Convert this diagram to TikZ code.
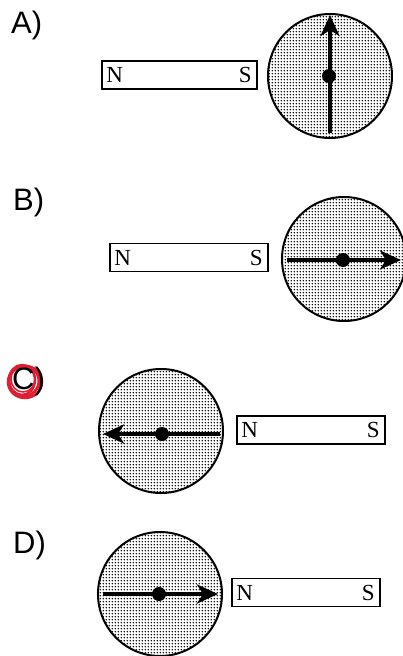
\documentclass[tikz,border=0pt]{standalone}
\usepackage{fontspec}
\setmainfont{Liberation Serif}
\newfontfamily\labfont{Liberation Sans}
\usetikzlibrary{patterns,arrows.meta}
\definecolor{penred}{RGB}{222,30,50}
\pgfdeclarepatternformonly{bigdots}{\pgfpointorigin}{\pgfpoint{3.2pt}{3.2pt}}{\pgfpoint{3.2pt}{3.2pt}}{%
  \pgfpathcircle{\pgfpoint{1.6pt}{1.6pt}}{0.95pt}\pgfusepath{fill}}
\begin{document}
\begin{tikzpicture}[x=1pt,y=-1pt,
  magnet/.style={draw, line width=1.6pt, inner sep=0pt, minimum height=28pt},
  pole/.style={font=\fontsize{23}{23}\selectfont, inner sep=0pt},
  compass/.style={circle, draw, line width=2pt, pattern=bigdots, minimum size=124pt, inner sep=0pt},
  needle/.style={line width=3.8pt, -{Stealth[length=21pt,width=19pt,inset=6pt]}},
  pivot/.style={circle, fill, minimum size=14pt, inner sep=0pt},
  lab/.style={font=\labfont\fontsize{31}{31}\selectfont, anchor=west, inner sep=0pt}]
\useasboundingbox (0,0) rectangle (402,656);
% A
\node[lab] (la) at (11,25) {A)};
\node[magnet, minimum width=155pt] (ma) at (179.5,75) {};
\node[pole, anchor=west] (na) at ([xshift=5pt]ma.west) {N};
\node[pole, anchor=east] (sa) at ([xshift=-6pt]ma.east) {S};
\node[compass] (ca) at (330,76) {};
\coordinate (ta) at (330,133);
\coordinate (ha) at (330,15);
\draw[needle] (ta) -- (ha);
\node[pivot] (pa) at (329,76) {};
% B
\node[lab] (lb) at (13,202) {B)};
\node[magnet, minimum width=158pt] (mb) at (189,257.5) {};
\node[pole, anchor=west] (nb) at ([xshift=5pt]mb.west) {N};
\node[pole, anchor=east] (sb) at ([xshift=-6pt]mb.east) {S};
\node[compass] (cb) at (344,259) {};
\coordinate (tb) at (287,260);
\coordinate (hb) at (401,260);
\draw[needle] (tb) -- (hb);
\node[pivot] (pb) at (343,260) {};
% C
\draw[penred, line width=3pt] (24,381) circle (15pt);
\draw[penred, line width=2.5pt] (22,380) ellipse (13pt and 15pt);
\draw[penred, line width=2.5pt] (25,382) ellipse (17pt and 16pt);
\draw[penred, line width=1.5pt] (23,379) ellipse (12pt and 13pt);
\node[lab] (lc) at (12,381) {C)};
\node[compass] (cc) at (161,431) {};
\node[magnet, minimum width=148pt] (mc) at (311,430) {};
\node[pole, anchor=west] (nc) at ([xshift=5pt]mc.west) {N};
\node[pole, anchor=east] (sc) at ([xshift=-6pt]mc.east) {S};
\coordinate (tc) at (220,434);
\coordinate (hc) at (103,434);
\draw[needle] (tc) -- (hc);
\node[pivot] (pc) at (162,434) {};
% D
\node[lab] (ld) at (13,545) {D)};
\node[compass] (cd) at (160,594) {};
\node[magnet, minimum width=148pt] (md) at (306,592.5) {};
\node[pole, anchor=west] (nd) at ([xshift=5pt]md.west) {N};
\node[pole, anchor=east] (sd) at ([xshift=-6pt]md.east) {S};
\coordinate (td) at (103,594);
\coordinate (hd) at (218,594);
\draw[needle] (td) -- (hd);
\node[pivot] (pd) at (159,594) {};
\end{tikzpicture}
\end{document}
